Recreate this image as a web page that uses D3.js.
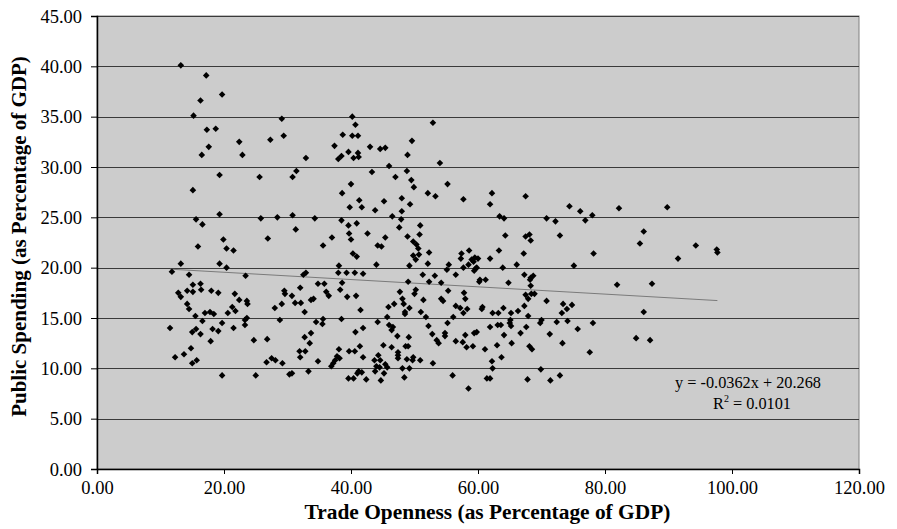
<!DOCTYPE html>
<html><head><meta charset="utf-8">
<script src="https://cdn.jsdelivr.net/npm/d3@7"></script>
<style>body{margin:0;background:#fff}svg{display:block}</style>
</head><body><svg id="c" width="897" height="529"></svg>
<script>
const trade = [13.2,17.2,19.7,16.3,15.2,29.1,17.3,18.7,29.4,22.4,27.3,17.6,16.5,22.9,19.3,25.6,31.4,30.8,15.1,19.3,15.6,16.6,25.8,28.4,19.9,26.9,
15.9,20.4,21.5,13.2,19.3,20.4,11.8,14.5,23.4,15.1,16.3,12.8,13.2,14.2,15.1,16.4,18.0,19.1,21.7,22.4,23.6,23.7,29.5,29.6,28.0,29.1,14.2,14.5,21.3,21.8,17.0,17.8,18.4,20.6,15.5,23.6,23.3,23.3,28.8,16.6,19.7,11.5,15.6,15.0,16.3,18.2,19.1,21.5,17.9,24.7,26.8,14.8,12.3,13.7,15.0,15.7,26.7,27.5,28.1,29.2,19.7,25.0,30.3,
40.2,52.9,40.7,38.7,40.2,41.1,49.6,37.4,43.0,44.6,45.4,39.6,41.1,48.9,38.5,38.0,40.4,41.2,32.9,54.0,46.0,43.3,48.8,47.0,49.5,40.0,55.2,49.9,38.6,52.1,53.3,57.7,41.3,48.0,45.2,49.3,39.8,41.7,43.8,48.0,30.8,34.3,46.5,47.9,38.5,40.9,39.6,47.6,50.9,31.3,39.7,42.6,50.8,37.0,40.0,45.4,48.9,35.6,49.8,50.3,44.2,44.8,50.6,52.3,40.3,40.9,49.8,50.7,50.2,57.4,58.6,57.3,38.1,44.0,49.2,52.1,55.4,55.1,57.7,58.5,59.3,59.8,38.0,39.3,40.6,41.9,32.5,51.3,53.2,56.5,
32.9,59.4,49.0,52.3,54.2,38.6,34.8,35.8,60.2,32.0,38.3,50.2,50.0,55.3,47.7,36.1,36.5,30.7,39.4,40.8,57.8,33.7,34.1,48.1,51.4,54.2,54.5,58.0,31.2,32.1,46.8,45.9,48.3,49.2,48.5,48.5,56.5,57.2,58.3,57.7,32.7,41.5,51.0,51.8,56.1,45.7,34.5,35.6,35.5,38.5,44.2,46.0,46.6,46.4,55.2,52.2,59.8,59.4,40.7,41.9,33.7,47.3,49.1,52.8,53.5,53.8,54.8,54.8,56.5,57.6,58.0,58.2,59.2,32.7,33.5,45.1,46.4,41.4,38.1,39.7,40.6,31.9,32.8,32.0,41.9,44.3,43.7,44.6,47.4,47.4,47.4,49.0,48.6,48.8,49.8,49.7,50.9,52.9,34.8,37.5,37.8,38.2,37.2,36.9,44.0,43.8,44.5,45.4,45.7,45.2,41.2,41.7,41.0,39.6,40.4,42.4,44.7,48.1,49.2,48.4,30.7,33.3,56.0,58.5,
62.2,67.5,61.9,74.4,76.1,82.2,89.8,63.4,64.1,70.8,72.2,76.9,78.0,64.3,67.5,68.1,68.3,72.9,86.1,85.5,63.3,67.2,78.2,61.9,59.0,59.5,60.0,59.6,63.9,66.1,75.1,67.3,68.7,68.3,60.3,61.2,
68.2,64.8,68.3,81.9,87.4,67.5,68.4,68.9,67.9,70.8,73.4,74.8,74.0,73.2,60.7,60.6,64.0,67.3,66.3,65.2,62.3,63.2,67.9,86.1,65.1,65.0,65.2,70.0,69.8,72.4,74.1,78.1,61.9,63.1,63.6,64.1,66.7,67.6,71.3,75.7,84.9,87.1,61.1,63.0,65.3,68.1,68.5,73.3,77.6,62.2,63.7,62.3,69.9,61.4,61.9,67.8,71.4,72.9,
91.5,94.3,97.7,97.6];
const spending = [40.1,39.1,37.2,36.6,35.1,34.8,33.7,33.8,33.1,32.5,32.7,32.0,31.2,31.2,29.2,29.0,29.6,29.0,27.7,25.3,24.8,24.3,24.9,25.0,22.8,22.9,
22.1,21.9,21.7,20.4,20.4,20.0,19.6,19.3,19.2,18.3,18.4,17.5,17.1,17.7,17.6,17.8,17.7,17.5,17.4,16.8,16.7,16.4,17.7,17.4,16.0,16.4,16.4,15.9,16.1,15.7,15.5,15.6,15.4,15.5,15.2,15.0,14.8,14.3,14.8,14.7,14.5,14.0,13.9,13.6,13.4,13.9,13.7,14.0,12.7,12.8,12.9,12.0,11.1,11.4,10.5,10.8,10.6,11.0,10.8,10.5,9.3,9.3,9.4,
35.0,34.4,34.2,33.2,33.1,33.1,32.6,32.1,32.0,31.8,31.9,31.5,31.4,31.2,31.1,30.8,30.9,31.0,30.9,30.4,30.1,29.5,29.6,29.0,28.7,28.3,28.3,28.0,27.4,27.4,27.1,26.8,26.7,26.9,26.6,26.3,26.0,26.0,25.7,25.6,25.2,24.9,25.1,24.8,24.7,24.4,24.2,24.0,24.2,23.8,23.4,23.4,23.3,23.0,22.8,23.0,23.1,22.2,22.6,22.3,22.2,22.1,21.9,21.5,21.4,21.1,21.2,21.3,20.8,21.4,21.7,20.9,20.2,20.3,20.2,20.4,20.3,19.8,20.0,20.3,20.6,20.0,19.5,19.5,19.5,19.4,19.3,19.3,19.2,19.3,
19.5,19.7,18.6,18.6,18.5,18.5,18.4,18.4,18.6,18.0,17.8,17.8,17.4,17.7,17.6,17.6,17.2,17.2,17.1,17.2,17.5,16.8,16.9,16.9,16.8,16.9,16.7,16.9,16.5,16.5,16.4,16.1,16.4,16.0,15.6,15.4,16.2,16.0,15.9,15.5,15.6,15.8,15.6,15.1,15.1,15.1,14.6,14.9,14.4,14.9,14.6,14.3,14.1,13.8,14.5,14.2,13.6,13.5,13.6,14.0,13.5,13.2,13.1,13.4,12.8,12.5,13.2,13.5,12.7,12.6,13.3,12.1,12.2,13.1,12.5,12.3,12.1,12.2,11.9,11.7,11.7,11.7,11.7,11.1,11.1,11.3,10.8,10.8,11.3,11.0,11.6,12.2,12.2,10.9,11.1,10.8,10.8,10.5,10.7,10.8,11.2,11.0,10.5,10.2,10.2,9.7,10.1,10.4,10.1,9.5,9.7,9.6,9.5,9.0,9.0,8.9,8.8,10.0,10.0,9.1,9.5,9.7,9.3,8.0,
27.4,27.1,26.3,26.1,25.6,25.9,26.0,25.1,24.9,24.9,24.6,24.7,25.2,23.2,23.1,23.3,22.7,23.2,23.6,22.4,21.7,21.4,21.4,20.9,20.8,21.0,20.9,19.9,20.0,20.3,20.2,19.3,19.2,19.0,18.8,18.8,
18.8,18.5,18.2,18.3,18.4,17.3,17.4,17.4,16.9,16.7,16.4,16.3,15.9,15.5,16.1,15.9,16.0,16.2,15.7,15.5,15.5,15.5,15.2,15.6,14.8,14.5,14.2,14.8,14.5,14.6,14.7,14.5,14.1,14.3,14.3,13.3,13.5,14.1,13.4,13.9,13.0,12.8,11.9,12.3,12.5,12.2,11.9,12.5,11.6,10.7,11.1,10.0,9.9,9.0,9.0,8.9,8.8,9.3,
20.9,22.2,21.5,21.8];
const xTicks = [0,20,40,60,80,100,120];
const yTicks = [0,5,10,15,20,25,30,35,40,45];
const slope = -0.0362, intercept = 20.268;
const eqLine1 = "y = -0.0362x + 20.268";
const xTitle = "Trade Openness (as Percentage of GDP)";
const yTitle = "Public Spending (as Percentage of GDP)";

const svg = d3.select("#c");
const L = 97, R = 859, T = 16, B = 469;
const x = d3.scaleLinear().domain([0,120]).range([L,R]);
const y = d3.scaleLinear().domain([0,45]).range([B,T]);
const font = "'Liberation Serif','Times New Roman',serif";

svg.append("rect").attr("x",L).attr("y",T).attr("width",R-L).attr("height",B-T)
  .attr("fill","#cccccc").attr("stroke","#808080").attr("stroke-width",1);

svg.append("g").selectAll("line").data(yTicks.filter(d=>d>0)).join("line")
  .attr("x1",L).attr("x2",R).attr("y1",d=>Math.round(y(d))+0.5).attr("y2",d=>Math.round(y(d))+0.5)
  .attr("stroke","#3a3a3a").attr("stroke-width",1.2);

const xAxis = svg.append("g").attr("transform",`translate(0,${B})`)
  .call(d3.axisBottom(x).tickValues(xTicks).tickFormat(d3.format(".2f")).tickSizeOuter(0).tickSize(5).tickPadding(7));
const yAxis = svg.append("g").attr("transform",`translate(${L},0)`)
  .call(d3.axisLeft(y).tickValues(yTicks).tickFormat(d3.format(".2f")).tickSizeOuter(0).tickSize(6).tickPadding(9));
[xAxis,yAxis].forEach(g=>{
  g.selectAll("text").attr("font-family",font).attr("font-size",18.5).attr("fill","#000");
  g.select(".domain").attr("stroke","#000").attr("stroke-width",1.5);
  g.selectAll(".tick line").attr("stroke","#000");
});
yAxis.selectAll("text").attr("dy","0.33em");

// trendline
const xmin = d3.min(trade), xmax = d3.max(trade);
svg.append("line").attr("x1",x(xmin)).attr("y1",y(slope*xmin+intercept))
  .attr("x2",x(xmax)).attr("y2",y(slope*xmax+intercept))
  .attr("stroke","#7a7a7a").attr("stroke-width",1);

const pts = trade.map((t,i)=>[t,spending[i]]);
const s = 3.3;
svg.append("g").selectAll("path").data(pts).join("path")
  .attr("transform",d=>`translate(${x(d[0])},${y(d[1])})`)
  .attr("d",`M0,${-s}L${s},0L0,${s}L${-s},0Z`).attr("fill","#000");

svg.append("text").attr("x",748).attr("y",388).attr("text-anchor","middle")
  .attr("font-family",font).attr("font-size",16.3).text(eqLine1);
const r2 = svg.append("text").attr("x",752).attr("y",409).attr("text-anchor","middle")
  .attr("font-family",font).attr("font-size",16.3);
r2.append("tspan").text("R");
r2.append("tspan").attr("dy",-7).attr("font-size",10).text("2");
r2.append("tspan").attr("dy",7).text(" = 0.0101");

svg.append("text").attr("x",487.5).attr("y",519).attr("text-anchor","middle")
  .attr("font-family",font).attr("font-size",21.4).attr("font-weight","bold").text(xTitle);
svg.append("text").attr("transform",`translate(26,236.5) rotate(-90)`).attr("text-anchor","middle")
  .attr("font-family",font).attr("font-size",21).attr("font-weight","bold").text(yTitle);
</script></body></html>
